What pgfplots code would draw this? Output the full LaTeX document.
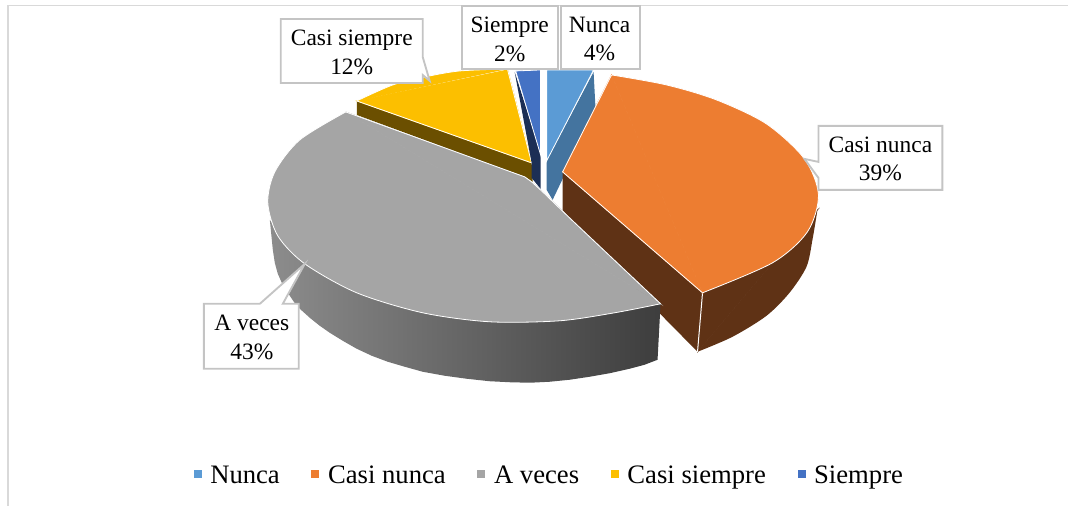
\documentclass[border=0pt]{standalone}
\usepackage{fontspec}
\setmainfont{Liberation Serif}
\usepackage{pgfplots}
\pgfplotsset{compat=1.18}
\definecolor{frameg}{HTML}{D9D9D9}
\definecolor{boxg}{HTML}{C4C4C4}
\definecolor{cNu}{HTML}{5B9BD5}
\definecolor{cNuS}{HTML}{44749F}
\definecolor{cCn}{HTML}{ED7D31}
\definecolor{cCnS}{HTML}{5F3215}
\definecolor{cAv}{HTML}{A5A5A5}
\definecolor{cCs}{HTML}{FCBF00}
\definecolor{cCsS}{HTML}{6B4F00}
\definecolor{cSi}{HTML}{4472C4}
\definecolor{cSiS}{HTML}{1C2F55}
\begin{document}
\begin{tikzpicture}
\begin{axis}[
  scale only axis, width=801.75pt, height=379.5pt,
  xmin=0,xmax=1069,ymin=0,ymax=506,y dir=reverse,
  hide axis, clip=false,
  every axis plot/.append style={forget plot},
  legend image code/.code={\path[#1] (0pt,-3pt) rectangle (6pt,3pt);},
  legend style={draw=none,fill=none,at={(550/1069,1-474/506)},anchor=center,
    legend columns=5,font=\fontsize{20}{24}\selectfont,inner sep=0pt,
    /tikz/every odd column/.append style={column sep=4.5pt},
    /tikz/every even column/.append style={column sep=21.75pt}},
]
% page extent
\addplot[draw=none] coordinates {(0,0)(1069,506)};
% frame
\addplot[draw=frameg,line width=1.1pt] coordinates {(8,506)(8,5.5)(1069,5.5)};
% Nunca side
\addplot[fill=cNuS,draw=none] coordinates {(547,161)(594,72)(596,110)(553,200)(547,190)} -- cycle;
% Casi nunca side
\addplot[fill=cCnS,draw=none] coordinates {(563,172)(703,293)(698,352)(563,215)} -- cycle;
\addplot[fill=cCnS,draw=cCnS,line width=0.6pt] coordinates {(703,293)(698,352)(818,210)} -- cycle;
\addplot[smooth,fill=cCnS,draw=none] coordinates {(818,210)(813,240)(807,267)(790,293)(767,316)(733,337)(698,352)};
\addplot[draw=white,line width=0.75pt] coordinates {(703,293)(698,352)};
% Casi nunca top
\addplot[smooth,fill=cCn,draw=none] coordinates {(612,75)(667,85)(717,100)(767,124)(805,159)(819,195)(808,232)(773,263)(703,293)};
\addplot[fill=cCn,draw=cCn,line width=0.6pt] coordinates {(563,172)(612,75)(703,293)} -- cycle;
\addplot[smooth,draw=white,line width=0.6pt] coordinates {(612,75)(667,85)(717,100)(767,124)(805,159)(819,195)(808,232)(773,263)(703,293)};
\addplot[draw=white,line width=0.6pt] coordinates {(612,75)(563,172)(703,293)};
% Casi siempre
\addplot[fill=cCsS,draw=none] coordinates {(357,101)(532,163)(533,182)(527,178)(357,115)} -- cycle;
\addplot[smooth,fill=cCs,draw=none] coordinates {(357,101)(393,85)(425,77)(460,71)(508,69)};
\addplot[fill=cCs,draw=cCs,line width=0.6pt] coordinates {(357,101)(532,163)(508,70)} -- cycle;
\addplot[smooth,draw=white,line width=0.6pt] coordinates {(357,101)(393,85)(425,77)(460,71)(508,69)};
\addplot[draw=white,line width=0.6pt] coordinates {(357,101)(532,163)(508,70)};
% Siempre
\addplot[fill=cSiS,draw=none] coordinates {(515,72)(541,153)(541,189)(532,178)(532,163)} -- cycle;
\addplot[fill=cSi,draw=white,line width=0.6pt] coordinates {(516,71)(541,70)(541,155)} -- cycle;
% Nunca top
\addplot[fill=cNu,draw=white,line width=0.6pt] coordinates {(547,70)(594,70)(547,161)} -- cycle;
% A veces side
\addplot[draw=none,left color=black!45,middle color=black!58,right color=black!76] coordinates {(270,220)(271.5,235)(273,250)(275,263)(278,274)(282,283)(288,293)(294,302)(300,309)(310,318)(320,326)(330,333)(343,341)(357,349)(372,356)(388,362)(405,367)(423,372)(445,376)(467,379)(490,381.5)(510,382.5)(530,383)(550,382)(570,380)(590,377)(610,373.5)(630,369)(645,365)(658,360)(661,304)(600,315)(490,322)(423,313)(357,293)(305,264)(290,250)} -- cycle;
% A veces top
\addplot[smooth,fill=cAv,draw=none] coordinates {(346,112)(300,140)(275,172)(268,203)(278,236)(305,264)(357,293)(423,313)(490,322)(560,321)(615,313)(661,304)};
\addplot[fill=cAv,draw=cAv,line width=0.6pt] coordinates {(346,112)(525,177)(532,182)(543,192)(572,220)(661,304)} -- cycle;
\addplot[smooth,draw=white,line width=0.6pt] coordinates {(346,112)(300,140)(275,172)(268,203)(278,236)(305,264)(357,293)(423,313)(490,322)(560,321)(615,313)(661,304)};
\addplot[draw=white,line width=0.6pt] coordinates {(346,112)(525,177)(532,182)(543,192)(572,220)(661,304)};
% callouts
\addplot[fill=white,draw=boxg,line width=1.4pt] coordinates {(281,19)(423,19)(423,57)(430,81)(423,75)(423,83)(281,83)} -- cycle;
\addplot[fill=white,draw=boxg,line width=1.4pt] coordinates {(462,6)(558,6)(558,69)(462,69)} -- cycle;
\addplot[fill=white,draw=boxg,line width=1.4pt] coordinates {(561,6)(640,6)(640,69)(561,69)} -- cycle;
\addplot[fill=white,draw=boxg,line width=1.4pt] coordinates {(819,126)(943,126)(943,190)(819,190)(819,178)(805,159)(819,162)} -- cycle;
\addplot[fill=white,draw=boxg,line width=1.4pt] coordinates {(204,304)(260,304)(305,264)(283,304)(299,304)(299,369)(204,369)} -- cycle;
% label texts
\begin{scope}[every node/.style={align=center,inner sep=0pt,text=black,font=\fontsize{17.6}{21.75}\selectfont}]
\node at (axis cs:352,52) {Casi siempre\\12\%};
\node at (axis cs:510,39) {Siempre\\2\%};
\node at (axis cs:600,39) {Nunca\\4\%};
\node at (axis cs:881,159) {Casi nunca\\39\%};
\node at (axis cs:252,338) {A veces\\43\%};
\end{scope}
% legend
\addlegendimage{fill=cNu,draw=none}\addlegendentry{\strut Nunca}
\addlegendimage{fill=cCn,draw=none}\addlegendentry{\strut Casi nunca}
\addlegendimage{fill=cAv,draw=none}\addlegendentry{\strut A veces}
\addlegendimage{fill=cCs,draw=none}\addlegendentry{\strut Casi siempre}
\addlegendimage{fill=cSi,draw=none}\addlegendentry{\strut Siempre}
\end{axis}
\end{tikzpicture}
\end{document}
